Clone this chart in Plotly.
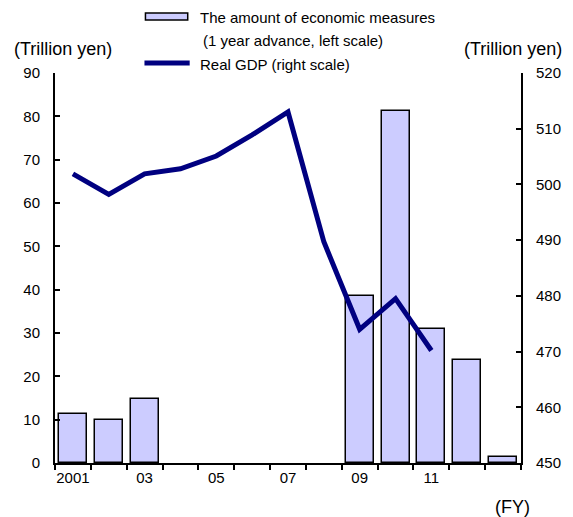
import plotly.graph_objects as go

# Fiscal years and series values
years = [2001, 2002, 2003, 2004, 2005, 2006, 2007, 2008, 2009, 2010, 2011, 2012, 2013]
measures = [11.2, 10.0, 14.8, None, None, None, None, None, 38.5, 81.2, 30.9, 23.7, 1.5]
gdp_years = [2001, 2002, 2003, 2004, 2005, 2006, 2007, 2008, 2009, 2010, 2011]
real_gdp = [501.9, 498.2, 501.9, 502.8, 505.1, 508.9, 513.0, 489.7, 474.0, 479.5, 470.2]
tick_years = [2001, 2003, 2005, 2007, 2009, 2011]
tick_labels = ["2001", "03", "05", "07", "09", "11"]

FONT = "Liberation Sans, Arial, sans-serif"

# plot-area geometry in pixels (used to place titles and the legend)
W, H = 573, 517
L, R, T, B = 55, 44, 73, 54
PW, PH = W - L - R, H - T - B


def px(x):
    return (x - L) / PW


def py(y):
    return (H - B - y) / PH


fig = go.Figure()
fig.add_trace(go.Bar(
    x=years, y=measures, width=0.78,
    marker=dict(color="#CCCCFF", line=dict(color="black", width=1.5)),
    name="The amount of economic measures", showlegend=False,
))
fig.add_trace(go.Scatter(
    x=gdp_years, y=real_gdp, yaxis="y2", mode="lines",
    line=dict(color="#000080", width=5),
    name="Real GDP (right scale)", showlegend=False,
))

fig.update_layout(
    width=W, height=H,
    margin=dict(l=L, r=R, t=T, b=B),
    paper_bgcolor="white", plot_bgcolor="white",
    font=dict(family=FONT, size=15, color="black"),
    xaxis=dict(
        range=[2000.5, 2013.5], showline=True, linecolor="black", linewidth=2,
        tickvals=tick_years, ticktext=tick_labels, ticks="", showgrid=False,
        zeroline=False,
        minor=dict(tickvals=[y + 0.5 for y in range(2000, 2014)], ticks="outside",
                   ticklen=5, tickwidth=1.5, tickcolor="black", showgrid=False),
    ),
    yaxis=dict(
        range=[0, 90], dtick=10, showline=True, linecolor="black", linewidth=2,
        ticks="inside", ticklen=5, tickwidth=1.5, tickcolor="black",
        showgrid=False, zeroline=False, ticklabelstandoff=10,
    ),
    yaxis2=dict(
        range=[450, 520], dtick=10, overlaying="y", side="right",
        showline=True, linecolor="black", linewidth=2,
        ticks="inside", ticklen=5, tickwidth=1.5, tickcolor="black",
        showgrid=False, zeroline=False, ticklabelstandoff=10,
    ),
    bargap=0,
)

# axis unit titles
ann = [
    dict(text="(Trillion yen)", x=px(63), y=py(49), xanchor="center", yanchor="middle", font=dict(size=18)),
    dict(text="(Trillion yen)", x=px(521), y=py(49), xanchor="center", yanchor="middle", font=dict(size=18)),
    dict(text="(FY)", x=px(520), y=py(507), xanchor="center", yanchor="middle", font=dict(size=18)),
    # legend labels
    dict(text="The amount of economic measures", x=px(200), y=py(17), xanchor="left", yanchor="middle", font=dict(size=15)),
    dict(text="(1 year advance, left scale)", x=px(203), y=py(40), xanchor="left", yanchor="middle", font=dict(size=15)),
    dict(text="Real GDP (right scale)", x=px(200), y=py(64), xanchor="left", yanchor="middle", font=dict(size=15)),
]
for a in ann:
    a.update(xref="paper", yref="paper", showarrow=False)
    fig.add_annotation(**a)

# legend swatches
fig.add_shape(type="rect", xref="paper", yref="paper",
              x0=px(147), x1=px(190), y0=py(20), y1=py(13),
              fillcolor="#CCCCFF", line=dict(color="black", width=1.5))
fig.add_shape(type="line", xref="paper", yref="paper",
              x0=px(146), x1=px(192), y0=py(63), y1=py(63),
              line=dict(color="#000080", width=5))

fig.write_html("out.html")
